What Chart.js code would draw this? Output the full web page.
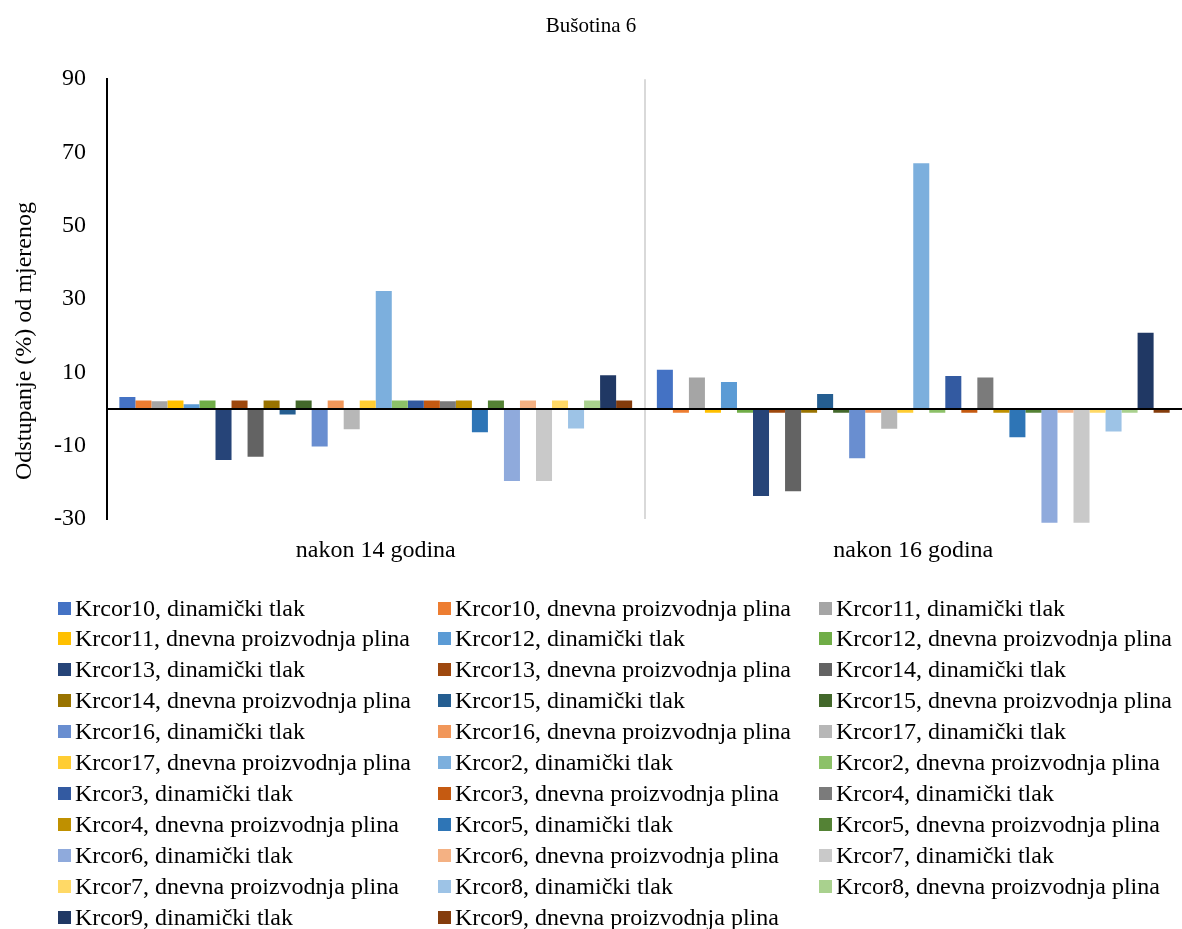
<!DOCTYPE html>
<html>
<head>
<meta charset="utf-8">
<script src="https://cdn.jsdelivr.net/npm/chart.js@4.4.1/dist/chart.umd.min.js"></script>
<style>
    html, body { margin: 0; padding: 0; background: #fff; }
    #wrap { position: relative; width: 1182px; height: 929px; }
    #chart { position: absolute; left: 0; top: 0; }
    #legend { position: absolute; left: 0; top: 0; width: 1182px; height: 929px; pointer-events: none; }
    .item { position: absolute; display: flex; align-items: center; font-family: "Liberation Serif", "Times New Roman", serif; font-size: 24px; color: #000; white-space: nowrap; height: 28px; }
    .box { width: 13px; height: 13px; margin-right: 4px; flex: none; }
</style>
</head>
<body>
<div id="wrap">
    <canvas id="chart" width="1182" height="929"></canvas>
    <div id="legend"></div>
</div>
<script>
const categories = ['nakon 14 godina', 'nakon 16 godina'];

const seriesNames = [
    'Krcor10, dinamički tlak', 'Krcor10, dnevna proizvodnja plina',
    'Krcor11, dinamički tlak', 'Krcor11, dnevna proizvodnja plina',
    'Krcor12, dinamički tlak', 'Krcor12, dnevna proizvodnja plina',
    'Krcor13, dinamički tlak', 'Krcor13, dnevna proizvodnja plina',
    'Krcor14, dinamički tlak', 'Krcor14, dnevna proizvodnja plina',
    'Krcor15, dinamički tlak', 'Krcor15, dnevna proizvodnja plina',
    'Krcor16, dinamički tlak', 'Krcor16, dnevna proizvodnja plina',
    'Krcor17, dinamički tlak', 'Krcor17, dnevna proizvodnja plina',
    'Krcor2, dinamički tlak', 'Krcor2, dnevna proizvodnja plina',
    'Krcor3, dinamički tlak', 'Krcor3, dnevna proizvodnja plina',
    'Krcor4, dinamički tlak', 'Krcor4, dnevna proizvodnja plina',
    'Krcor5, dinamički tlak', 'Krcor5, dnevna proizvodnja plina',
    'Krcor6, dinamički tlak', 'Krcor6, dnevna proizvodnja plina',
    'Krcor7, dinamički tlak', 'Krcor7, dnevna proizvodnja plina',
    'Krcor8, dinamički tlak', 'Krcor8, dnevna proizvodnja plina',
    'Krcor9, dinamički tlak', 'Krcor9, dnevna proizvodnja plina'
];

// deviation (%) after 14 years, one value per series
const after14 = [
    3.3, 2.3, 2.1, 2.3, 1.3, 2.3, -13.9, 2.3,
    -13.0, 2.3, -1.5, 2.3, -10.2, 2.3, -5.5, 2.3,
    32.2, 2.3, 2.3, 2.3, 2.1, 2.3, -6.3, 2.3,
    -19.6, 2.3, -19.6, 2.3, -5.3, 2.3, 9.2, 2.3
];

// deviation (%) after 16 years
const after16 = [
    10.7, -1.0, 8.6, -1.0, 7.4, -1.0, -23.7, -1.0,
    -22.4, -1.0, 4.1, -1.0, -13.4, -1.0, -5.4, -1.0,
    67.1, -1.0, 9.0, -1.0, 8.6, -1.0, -7.7, -1.0,
    -31.0, -1.0, -31.0, -1.0, -6.1, -1.0, 20.8, -1.0
];

const yTicks = [-30, -10, 10, 30, 50, 70, 90];

const colours = [
    '#4472C4', '#ED7D31', '#A5A5A5', '#FFC000', '#5B9BD5', '#70AD47',
    '#264478', '#9E480E', '#636363', '#997300', '#255E91', '#43682B',
    '#698ED0', '#F1975A', '#B7B7B7', '#FFCD33', '#7CAFDD', '#8CC168',
    '#335AA1', '#C55A11', '#7B7B7B', '#BF9000', '#2E75B6', '#548235',
    '#8FAADC', '#F4B183', '#C9C9C9', '#FFD966', '#9DC3E6', '#A9D18E',
    '#203864', '#843C0C'
];

const serif = '"Liberation Serif", "Times New Roman", serif';

// axis line drawn on top of the bars, like in Excel
const zeroLine = {
    id: 'zeroLine',
    afterDatasetsDraw(chart) {
        const y = chart.scales.y.getPixelForValue(0);
        const ctx = chart.ctx;
        ctx.save();
        ctx.strokeStyle = '#000';
        ctx.lineWidth = 2;
        ctx.beginPath();
        ctx.moveTo(chart.chartArea.left, y);
        ctx.lineTo(chart.chartArea.right, y);
        ctx.stroke();
        ctx.restore();
    }
};

// y axis title sits a bit lower than the plot centre in the original
const yTitle = {
    id: 'yTitle',
    afterDraw(chart) {
        const ctx = chart.ctx;
        ctx.save();
        ctx.translate(25, 341);
        ctx.rotate(-Math.PI / 2);
        ctx.font = '24px ' + serif;
        ctx.fillStyle = '#000';
        ctx.textAlign = 'center';
        ctx.textBaseline = 'middle';
        ctx.fillText('Odstupanje (%) od mjerenog', 0, 0);
        ctx.restore();
    }
};

const datasets = seriesNames.map((name, i) => ({
    label: name,
    data: [after14[i], after16[i]],
    backgroundColor: colours[i],
    borderWidth: 0,
    categoryPercentage: 0.954,
    barPercentage: 1,
    clip: 5
}));

const chart = new Chart(document.getElementById('chart'), {
    type: 'bar',
    data: { labels: categories, datasets: datasets },
    plugins: [zeroLine, yTitle],
    options: {
        responsive: false,
        animation: false,
        layout: { padding: { left: 0, right: 0, top: 0, bottom: 360 } },
        plugins: {
            legend: { display: false },
            tooltip: { enabled: false },
            title: {
                display: true,
                text: 'Bušotina 6',
                color: '#000',
                font: { family: serif, size: 21, weight: 'normal', lineHeight: 1.2 },
                padding: { top: 14, bottom: 40 }
            }
        },
        scales: {
            x: {
                grid: {
                    offset: true,
                    color: ctx => ctx.index === 1 ? '#D9D9D9' : 'rgba(0,0,0,0)',
                    lineWidth: 2,
                    drawTicks: false
                },
                border: { display: false },
                ticks: { color: '#000', font: { family: serif, size: 24 }, padding: 17 },
                afterFit(scale) { scale.height = 50; }
            },
            y: {
                min: -30,
                max: 90,
                afterBuildTicks(scale) { scale.ticks = yTicks.map(v => ({ value: v })); },
                grid: { display: false, drawTicks: false },
                border: { color: '#000', width: 2 },
                ticks: { color: '#000', font: { family: serif, size: 24 }, padding: 21 },
                afterFit(scale) { scale.width = 107; }
            }
        }
    }
});

// legend in three columns, built from the chart's datasets
const legend = document.getElementById('legend');
const colX = [58, 438, 819];
chart.data.datasets.forEach((ds, i) => {
    const row = Math.floor(i / 3);
    const col = i % 3;
    const item = document.createElement('div');
    item.className = 'item';
    item.style.left = colX[col] + 'px';
    item.style.top = (608 + row * 30.9 - 14) + 'px';
    const box = document.createElement('span');
    box.className = 'box';
    box.style.background = ds.backgroundColor;
    const text = document.createElement('span');
    text.textContent = ds.label;
    item.appendChild(box);
    item.appendChild(text);
    legend.appendChild(item);
});
</script>
</body>
</html>
